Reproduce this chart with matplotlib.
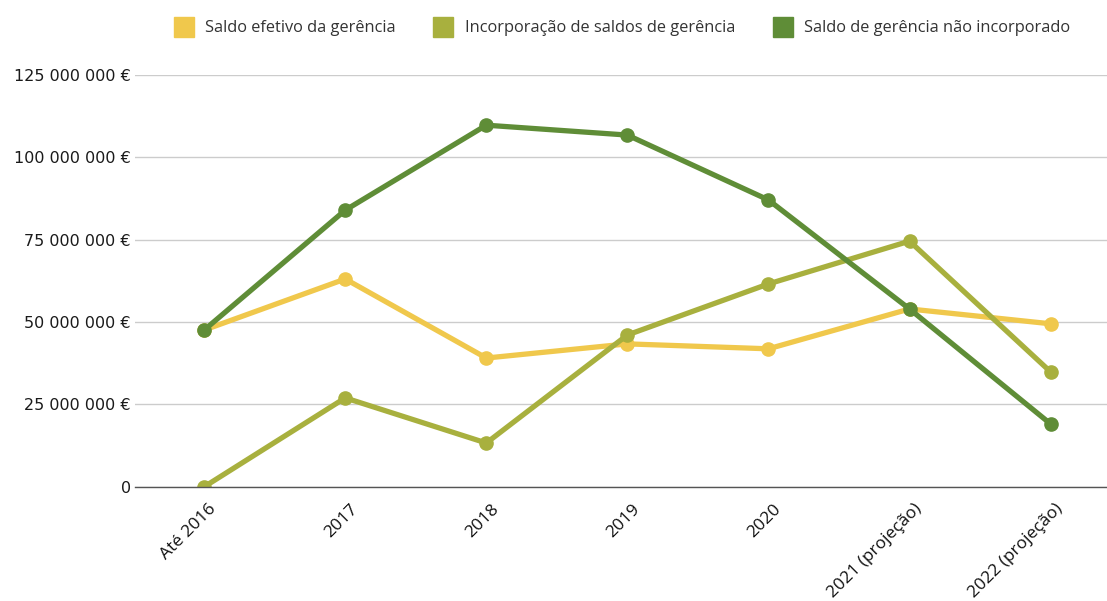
import matplotlib
matplotlib.use("Agg")
import matplotlib.pyplot as plt
import matplotlib.transforms as mtransforms
from matplotlib.lines import Line2D

# data
categories = ["Até 2016", "2017", "2018", "2019", "2020", "2021 (projeção)", "2022 (projeção)"]
saldo_efetivo = [47.6e6, 63.1e6, 39.1e6, 43.4e6, 41.9e6, 54.0e6, 49.5e6]
incorporacao = [0.0, 27.0e6, 13.3e6, 46.1e6, 61.6e6, 74.6e6, 34.9e6]
nao_incorporado = [47.6e6, 84.0e6, 109.8e6, 106.8e6, 87.1e6, 54.0e6, 19.1e6]
series_names = ["Saldo efetivo da gerência", "Incorporação de saldos de gerência",
                "Saldo de gerência não incorporado"]
yticks = [0, 25e6, 50e6, 75e6, 100e6, 125e6]
ytick_labels = ["0", "25 000 000 €", "50 000 000 €", "75 000 000 €",
                "100 000 000 €", "125 000 000 €"]

colors = ["#f0c84c", "#a8b03e", "#5f8d37"]

fig = plt.figure(figsize=(11.07, 6.01), dpi=100)
ax = fig.add_axes([0.122, 0.19, 0.878, 0.685])

x = list(range(len(categories)))
for vals, c, name in zip([saldo_efetivo, incorporacao, nao_incorporado], colors, series_names):
    ax.plot(x, vals, color=c, lw=3.8, marker="o", ms=9.5, label=name,
            solid_capstyle="round", solid_joinstyle="round")

ax.set_xlim(-0.49, 6.40)
ax.set_ylim(0, 125e6)
ax.set_yticks(yticks)
ax.set_yticklabels(ytick_labels, fontfamily="DejaVu Sans", fontsize=11.5, color="#1a1a1a")

# category labels drawn as text so they can be shifted like the original
ax.set_xticks(x)
ax.set_xticklabels([])
offset = mtransforms.ScaledTranslation(0.10, -0.20, fig.dpi_scale_trans)
for xi, cat in zip(x, categories):
    ax.text(xi, 0, cat, transform=ax.get_xaxis_transform() + offset,
            rotation=45, ha="right", va="center", rotation_mode="anchor",
            fontfamily="Open Sans", fontsize=12.5, color="#111111")

ax.tick_params(axis="both", length=0)
ax.tick_params(axis="y", pad=3)
ax.grid(axis="y", color="#cccccc", lw=1)
ax.set_axisbelow(True)
for s in ["top", "right", "left"]:
    ax.spines[s].set_visible(False)
ax.spines["bottom"].set_color("#555555")
ax.spines["bottom"].set_linewidth(1)

handles = [Line2D([], [], marker="s", ls="", ms=14, color=c) for c in colors]
fig.legend(handles, series_names, loc="center", bbox_to_anchor=(0.559, 0.953), ncol=3,
           frameon=False, prop={"family": "Open Sans", "size": 11.8},
           handletextpad=0.3, columnspacing=1.9, labelcolor="#333333")

fig.savefig("out.png", dpi=100)
